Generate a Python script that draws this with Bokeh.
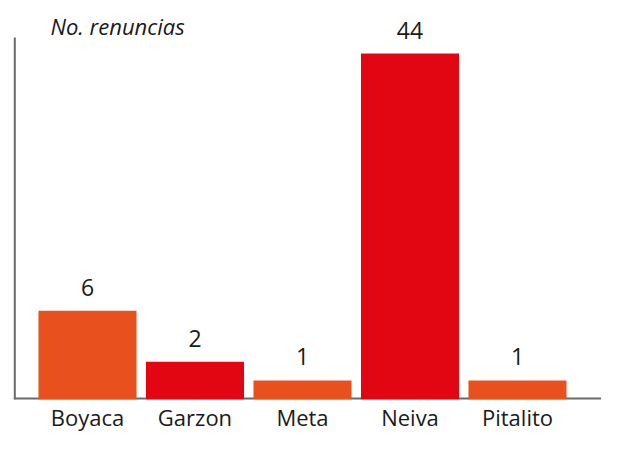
from bokeh.plotting import figure
from bokeh.models import Range1d, ColumnDataSource, LabelSet, Label
from bokeh.core.properties import value
from bokeh.embed import file_html
from bokeh.resources import INLINE

categories = ["Boyaca", "Garzon", "Meta", "Neiva", "Pitalito"]
values = [6, 2, 1, 44, 1]
# bar heights as drawn in the reference (same axis units as Neiva = 44)
bar_heights = [11.2, 4.7, 2.3, 44, 2.3]
colors = ["#E8501E", "#E20613", "#E8501E", "#E20613", "#E8501E"]
y_title = "No. renuncias"

positions = list(range(len(categories)))
source = ColumnDataSource(dict(x=positions, top=bar_heights, label=[str(v) for v in values],
                               cat=categories, color=colors))

X_START, X_END = -0.8093, 4.7814
Y_START, Y_END = -4.591, 50.76
AXIS_X = -0.6763
AXIS_TOP = 46.04

p = figure(width=601, height=434, output_backend="svg", toolbar_location=None,
           x_range=Range1d(X_START, X_END), y_range=Range1d(Y_START, Y_END),
           x_axis_type=None, y_axis_type=None,
           min_border_left=0, min_border_right=0, min_border_top=0, min_border_bottom=0)
p.xgrid.visible = False
p.ygrid.visible = False
p.outline_line_color = None

axis_color = "#6a6a6a"
# axis lines
p.segment(x0=[AXIS_X], y0=[-0.1], x1=[AXIS_X], y1=[AXIS_TOP], line_color=axis_color, line_width=2)
p.segment(x0=[AXIS_X - 0.009], y0=[0], x1=[X_END], y1=[0], line_color=axis_color, line_width=2)

p.vbar(x="x", top="top", bottom=-0.1, width=0.912, color="color", source=source, line_color=None)

font = value("Open Sans")
val_labels = LabelSet(x="x", y="top", text="label", source=source, text_align="center",
                      text_baseline="alphabetic", y_offset=15, text_font=font,
                      text_font_size="23px", text_color="#1a1a1a")
cat_labels = LabelSet(x="x", y=0, text="cat", source=source, text_align="center",
                      text_baseline="alphabetic", y_offset=-27, text_font=font,
                      text_font_size="22px", text_color="#1a1a1a")
p.add_layout(val_labels)
p.add_layout(cat_labels)

title = Label(x=50, y=409, x_units="screen", y_units="screen", text=y_title,
              text_font="Open Sans", text_font_style="italic", text_font_size="22px",
              text_color="#1a1a1a", text_baseline="alphabetic")
p.add_layout(title)

open("out.html", "w").write(file_html(p, INLINE))
